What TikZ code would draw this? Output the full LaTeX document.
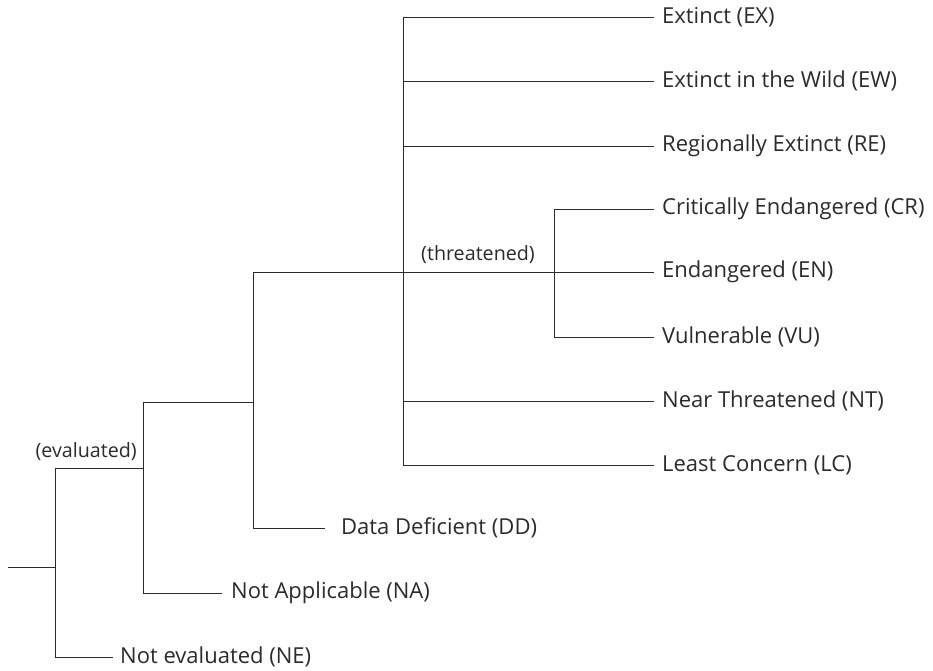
\documentclass[tikz,border=0pt]{standalone}
\usepackage{fontspec}
\setmainfont{Open Sans}
\definecolor{ink}{HTML}{2B2B2B}
\begin{document}
\begin{tikzpicture}[x=1pt,y=-1pt,
  branch/.style={draw=ink,line width=0.8pt},
  leaf/.style={anchor=west,inner xsep=8pt,inner ysep=0pt,text=ink,font=\fontsize{22}{24}\selectfont},
  group/.style={anchor=east,inner sep=0pt,text=ink,font=\fontsize{19.7}{22}\selectfont}]
\useasboundingbox (0,0) rectangle (933,671);
% junction coordinates
\coordinate (r0) at (8,567);
\coordinate (j0t) at (55,468);
\coordinate (j0b) at (55,657);
\coordinate (j1t) at (143,402);
\coordinate (j1b) at (143,593);
\coordinate (j2t) at (253,272);
\coordinate (j2b) at (253,528);
\coordinate (j3t) at (403,17);
\coordinate (j3b) at (403,465);
\coordinate (j4t) at (554,209);
\coordinate (j4b) at (554,337);
\coordinate (j0) at (55,567);
\coordinate (j1e) at (143,468);
\coordinate (j2e) at (253,402);
% leaves
\node[leaf] (EX) at (654,17) {Extinct (EX)};
\node[leaf] (EW) at (654,81) {Extinct in the Wild (EW)};
\node[leaf] (RE) at (654,146) {Regionally Extinct (RE)};
\node[leaf] (CR) at (654,209) {Critically Endangered (CR)};
\node[leaf] (EN) at (654,272) {Endangered (EN)};
\node[leaf] (VU) at (654,337) {Vulnerable (VU)};
\node[leaf] (NT) at (654,401) {Near Threatened (NT)};
\node[leaf] (LC) at (654,465) {Least Concern (LC)};
\node[leaf,inner xsep=16pt] (DD) at (325,528) {Data Deficient (DD)};
\node[leaf,inner xsep=9pt] (NA) at (222,593) {Not Applicable (NA)};
\node[leaf,inner xsep=7pt] (NE) at (113,657) {Not evaluated (NE)};
\node[group] (ev) at (137,452) {(evaluated)};
\node[group] (th) at (535,255) {(threatened)};
% connectors
\draw[branch] (r0) -- (j0);
\draw[branch] (j0t) -- (j0b);
\draw[branch] (j0t) -- (j1e);
\draw[branch] (j0b) -- (NE.west);
\draw[branch] (j1t) -- (j1b);
\draw[branch] (j1b) -- (NA.west);
\draw[branch] (j1t) -- (j2e);
\draw[branch] (j2t) -- (j2b);
\draw[branch] (j2b) -- (DD.west);
\draw[branch] (j2t) -- (EN.west);
\draw[branch] (j3t) -- (j3b);
\draw[branch] (j3t) -- (EX.west);
\draw[branch] (j3t |- EW.west) -- (EW.west);
\draw[branch] (j3t |- RE.west) -- (RE.west);
\draw[branch] (j3t |- NT.west) -- (NT.west);
\draw[branch] (j3b) -- (LC.west);
\draw[branch] (j4t) -- (j4b);
\draw[branch] (j4t) -- (CR.west);
\draw[branch] (j4b) -- (VU.west);
\end{tikzpicture}
\end{document}
